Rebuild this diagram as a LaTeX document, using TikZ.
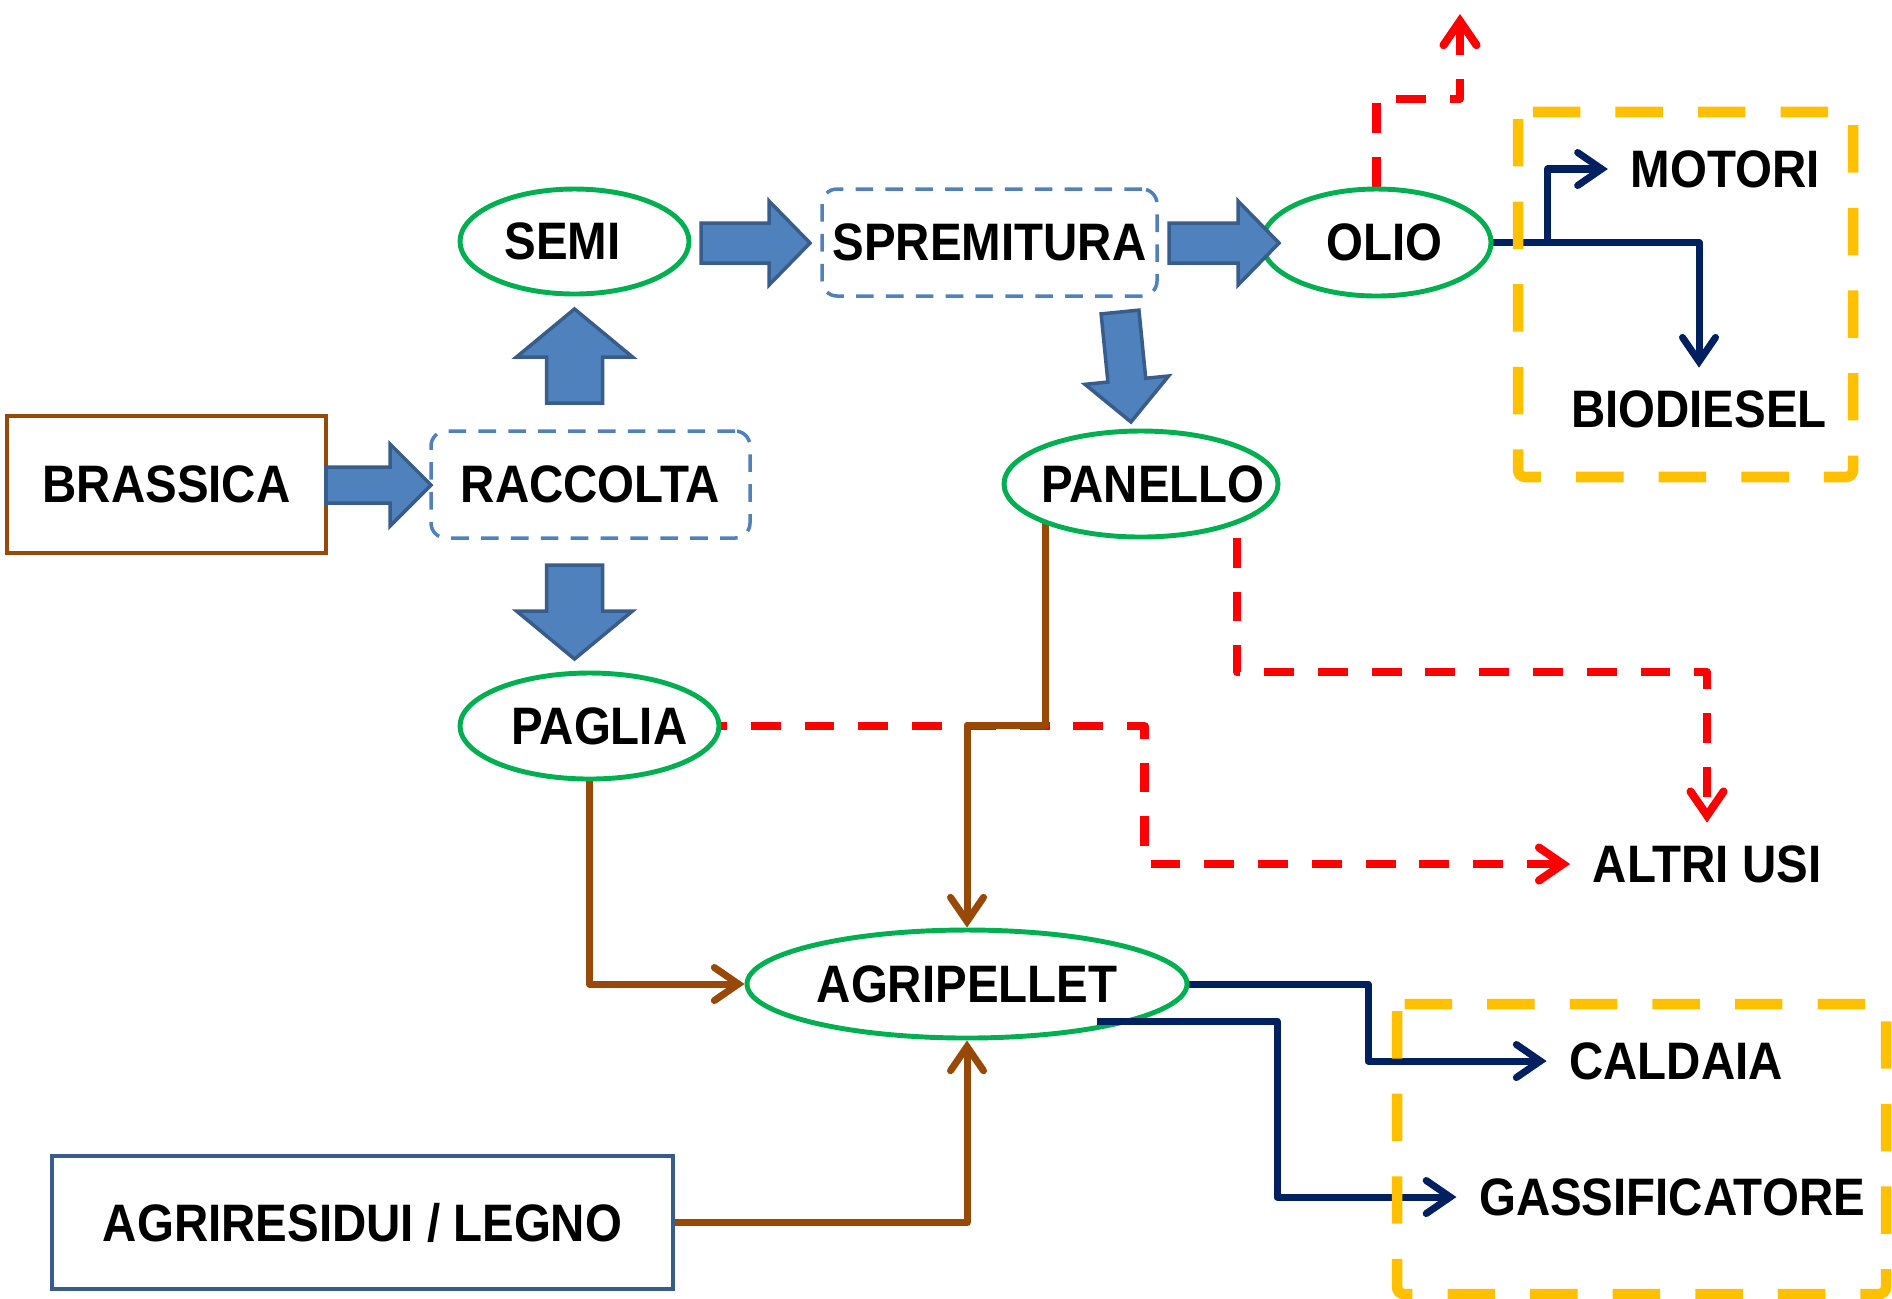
\documentclass[tikz,border=0pt]{standalone}
\usepackage{fontspec}
\setmainfont[FakeStretch=0.9]{Liberation Sans}
\usetikzlibrary{shapes.geometric,arrows.meta,backgrounds}

\definecolor{okgreen}{HTML}{00B050}
\definecolor{flowbrown}{HTML}{984807}
\definecolor{navyline}{HTML}{002060}
\definecolor{fillblue}{HTML}{4F81BD}
\definecolor{edgeblue}{HTML}{385D8A}
\definecolor{groupyellow}{HTML}{FFC000}

% block arrow along +x: length, shaft half width, head half width, head length
\newcommand{\fatarrow}[4]{%
  \draw [fat] (0,#2) -- ({#1-#4},#2) -- ({#1-#4},#3) -- (#1,0)
    -- ({#1-#4},-#3) -- ({#1-#4},-#2) -- (0,-#2) -- cycle;}

\begin{document}
\begin{tikzpicture}[
    font=\fontsize{15}{17}\selectfont\bfseries,
    prod/.style={ellipse, draw=okgreen, line width=1.4pt, fill=white, inner sep=0pt},
    phase/.style={rectangle, draw=fillblue, line width=1pt, dash pattern=on 5pt off 3.5pt,
        rounded corners=0.15cm, fill=white, inner sep=0.05cm, minimum height=1.07cm},
    source/.style={rectangle, line width=1.3pt, fill=white},
    lbl/.style={inner sep=0.22cm},
    fat/.style={fill=fillblue, draw=edgeblue, line width=1pt},
    tip/.style={-{Straight Barb[length=2.4mm, width=3.3mm, line cap=round]}, line join=round},
    brownflow/.style={tip, draw=flowbrown, line width=2pt},
    navyflow/.style={tip, draw=navyline, line width=2pt},
    redflow/.style={tip, draw=red, line width=2.3pt, dash pattern=on 8.5pt off 6.8pt},
    group/.style={draw=groupyellow, line width=3pt, dash pattern=on 13.5pt off 10pt, rounded corners=2pt}
        ]

    \path [use as bounding box] (0,0) rectangle (18.92,-12.98);

    % chain
    \node [source, draw=flowbrown, minimum width=3.19cm, minimum height=1.37cm] (brassica) at (1.665,-4.845) {BRASSICA};
    \node [phase, minimum width=3.19cm] (raccolta) at (5.905,-4.845) {RACCOLTA};
    \node [prod, minimum width=2.29cm, minimum height=1.05cm, label={[xshift=-0.12cm]center:SEMI}] (semi) at (5.745,-2.415) {};
    \node [phase, minimum width=3.35cm] (spremitura) at (9.895,-2.425) {SPREMITURA};
    \node [prod, minimum width=2.29cm, minimum height=1.07cm, label={[xshift=0.08cm]center:OLIO}] (olio) at (13.765,-2.425) {};
    \node [prod, minimum width=2.74cm, minimum height=1.06cm, label={[xshift=0.12cm]center:PANELLO}] (panello) at (11.41,-4.84) {};
    \node [prod, minimum width=2.59cm, minimum height=1.06cm, label={[xshift=0.1cm]center:PAGLIA}] (paglia) at (5.895,-7.26) {};
    \node [prod, minimum width=4.40cm, minimum height=1.08cm, label={center:AGRIPELLET}] (agripellet) at (9.67,-9.84) {};
    \node [source, draw=edgeblue, minimum width=6.21cm, minimum height=1.33cm] (agriresidui) at (3.625,-12.225) {AGRIRESIDUI / LEGNO};

    % uses
    \node [lbl] (motori) at (17.25,-1.69) {MOTORI};
    \node [lbl] (biodiesel) at (16.99,-4.09) {BIODIESEL};
    \node [lbl] (altri) at (17.07,-8.64) {ALTRI USI};
    \node [lbl] (caldaia) at (16.76,-10.61) {CALDAIA};
    \node [lbl] (gass) at (16.72,-11.97) {GASSIFICATORE};

    \coordinate (olioup) at (14.60,-0.14);

    \begin{scope}[on background layer]
        \draw [redflow] (olio.north) -- ++(0,0.88) -| (olioup);
        \draw [redflow] ([xshift=0.96cm]panello.center) -- ++(0,-1.88) -| (altri.north);
        \draw [redflow] (paglia.center) -- ++(5.55,0) |- (altri.west);

        \draw [navyflow] (olio.center) -- ++(3.22,0) -| (biodiesel.north);
        \draw [navyflow] ([xshift=1.71cm]olio.center) |- (motori.west);

        \draw [brownflow] ([xshift=-0.96cm]panello.center) -- ++(0,-2.41) -| (agripellet.north);
        \draw [brownflow] (paglia.center) |- (agripellet.west);
        \draw [brownflow] (agriresidui.center) -| (agripellet.south);

        \draw [navyflow] (agripellet.center) -- ++(4.01,0) |- (caldaia.west);
    \end{scope}
    \draw [navyflow] ([xshift=1.30cm,yshift=-0.37cm]agripellet.center) -- ++(1.8,0) |- (gass.west);

    % block arrows
    \begin{scope}[shift={(3.26,-4.85)}]
        \fatarrow{1.05}{0.18}{0.41}{0.41}
    \end{scope}
    \begin{scope}[shift={(7.01,-2.43)}]
        \fatarrow{1.09}{0.20}{0.42}{0.41}
    \end{scope}
    \begin{scope}[shift={(11.69,-2.43)}]
        \fatarrow{1.10}{0.20}{0.42}{0.41}
    \end{scope}
    \begin{scope}[shift={(5.745,-4.03)}, rotate=90]
        \fatarrow{0.94}{0.28}{0.58}{0.48}
    \end{scope}
    \begin{scope}[shift={(5.745,-5.65)}, rotate=-90]
        \fatarrow{0.94}{0.28}{0.58}{0.48}
    \end{scope}
    \begin{scope}[shift={(11.20,-3.12)}, rotate=-84.3]
        \fatarrow{1.105}{0.19}{0.42}{0.42}
    \end{scope}

    % groups
    \draw [group] (15.18,-1.12) rectangle (18.53,-4.77);
    \draw [group] (13.97,-10.04) rectangle (18.86,-12.94);

\end{tikzpicture}
\end{document}
